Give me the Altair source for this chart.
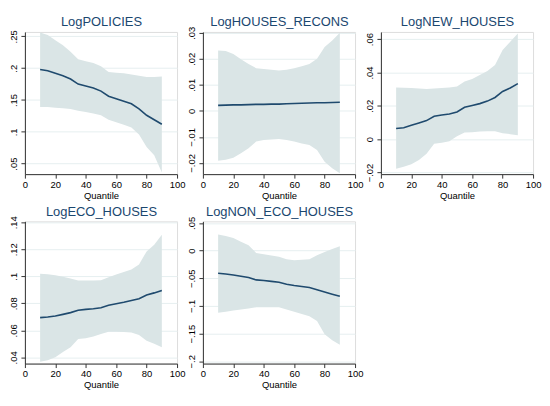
import altair as alt
import pandas as pd

quantiles = [10, 15, 20, 25, 30, 35, 40, 45, 50, 55, 60, 65, 70, 75, 80, 85, 90]

titles = ["LogPOLICIES", "LogHOUSES_RECONS", "LogNEW_HOUSES", "LogECO_HOUSES", "LogNON_ECO_HOUSES"]

policies_est = [.198, .196, .192, .188, .183, .175, .172, .169, .164, .156, .152, .148, .144, .136, .126, .119, .112]
policies_hi = [.256, .252, .244, .236, .226, .214, .211, .208, .203, .194, .193, .192, .190, .188, .186, .186, .187]
policies_lo = [.139, .139, .138, .137, .136, .133, .131, .129, .126, .119, .115, .111, .107, .096, .076, .063, .036]

recons_est = [.0021, .0022, .0023, .0023, .0024, .0025, .0025, .0026, .0026, .0027, .0028, .0029, .0030, .0031, .0031, .0032, .0033]
recons_hi = [.0232, .0230, .0218, .0198, .0180, .0164, .0161, .0158, .0155, .0158, .0164, .0171, .0180, .0200, .0245, .0270, .0300]
recons_lo = [-.0192, -.0188, -.0180, -.0163, -.0144, -.0118, -.0112, -.0110, -.0108, -.0112, -.0118, -.0125, -.0131, -.0150, -.0195, -.0220, -.0240]

new_est = [.0064, .0068, .0083, .0097, .0111, .0137, .0145, .0151, .0163, .0191, .0202, .0213, .0228, .0250, .0286, .0307, .0333]
new_hi = [.0310, .0308, .0306, .0303, .0300, .0303, .0306, .0310, .0316, .0345, .0361, .0385, .0409, .0445, .0534, .0584, .0633]
new_lo = [-.0177, -.0165, -.0151, -.0125, -.0087, -.0028, -.0022, -.0012, .0018, .0040, .0042, .0046, .0048, .0047, .0036, .0030, .0024]

eco_est = [.0694, .0699, .0706, .0718, .0731, .0748, .0755, .0760, .0767, .0786, .0797, .0808, .0821, .0833, .0861, .0877, .0895]
eco_hi = [.1018, .1014, .1008, .0996, .0984, .0969, .0969, .0969, .0971, .0993, .1013, .1032, .1050, .1087, .1184, .1233, .1307]
eco_lo = [.0368, .0378, .0400, .0440, .0474, .0535, .0542, .0555, .0572, .0589, .0589, .0587, .0584, .0565, .0523, .0500, .0474]

noneco_est = [-.0411, -.0424, -.0440, -.0463, -.0488, -.0530, -.0542, -.0556, -.0571, -.0607, -.0630, -.0648, -.0667, -.0708, -.0750, -.0790, -.0827]
noneco_hi = [.0292, .0262, .0226, .0160, .0095, -.0042, -.0065, -.0090, -.0113, -.0155, -.0173, -.0168, -.0155, -.0083, -.0024, .0030, .0077]
noneco_lo = [-.1125, -.1105, -.1083, -.1065, -.1048, -.1024, -.1024, -.1024, -.1024, -.1065, -.1107, -.1145, -.1185, -.1274, -.1512, -.1620, -.1702]

series = [
    (policies_est, policies_lo, policies_hi),
    (recons_est, recons_lo, recons_hi),
    (new_est, new_lo, new_hi),
    (eco_est, eco_lo, eco_hi),
    (noneco_est, noneco_lo, noneco_hi),
]

y_domains = [
    [0.0335, 0.257],
    [-0.0243, 0.0303],
    [-0.021, 0.0643],
    [0.0354, 0.1406],
    [-0.2041, 0.0527],
]
y_ticks = [
    [.05, .1, .15, .2, .25],
    [-.02, -.01, 0, .01, .02, .03],
    [-.02, 0, .02, .04, .06],
    [.04, .06, .08, .1, .12, .14],
    [-.2, -.15, -.1, -.05, 0, .05],
]
x_ticks = [0, 20, 40, 60, 80, 100]

FONT = "Liberation Sans"
BAND = "#dae5e6"
LINE = "#1f4a6e"


def panel(i):
    est, lo, hi = series[i]
    df = pd.DataFrame({"q": quantiles, "est": est, "lo": lo, "hi": hi})
    xscale = alt.Scale(domain=[0, 100], nice=False)
    x_bottom = alt.X(
        "q:Q", scale=xscale,
        axis=alt.Axis(
            values=x_ticks, title="Quantile", grid=False, labelFontSize=9.5,
            titleFontSize=9.5, titleFontWeight="normal", titlePadding=1.5,
            labelPadding=1, tickSize=4, domainColor="#333", tickColor="#333",
            labelColor="#000", titleColor="#000", labelFont=FONT, titleFont=FONT,
            labelFlush=False, labelOverlap=False,
        ),
    )
    x_top = alt.X(
        "q:Q", scale=xscale,
        axis=alt.Axis(
            orient="top", title=titles[i], labels=False, ticks=False,
            domain=False, grid=False, titleFontSize=13, titleFont=FONT,
            titleColor="#1a476f", titleFontWeight="normal", titlePadding=3,
            minExtent=0, maxExtent=0,
        ),
    )
    yscale = alt.Scale(domain=y_domains[i], nice=False, zero=False)
    yaxis = alt.Axis(
        values=y_ticks[i], title=None, grid=True, gridColor="#e6eff0",
        labelAngle=270, labelAlign="center", labelBaseline="bottom",
        labelExpr="replace(format(datum.value, '~g'), '0.', '.')",
        labelFontSize=9.5, labelPadding=2, tickSize=4, domainColor="#333",
        tickColor="#333", labelColor="#000", labelFont=FONT,
        minExtent=16, maxExtent=16, labelFlush=False, labelOverlap=False,
    )
    base = alt.Chart(df)
    band = base.mark_area(color=BAND, opacity=1).encode(
        x=x_bottom, y=alt.Y("lo:Q", scale=yscale, axis=yaxis), y2="hi:Q"
    )
    line = base.mark_line(color=LINE, strokeWidth=1.6).encode(
        x=x_top, y=alt.Y("est:Q", scale=yscale, axis=yaxis)
    )
    return alt.layer(band, line).resolve_axis(x="independent").properties(
        width=153, height=143
    )


row1 = alt.hconcat(panel(0), panel(1), panel(2), spacing=0).resolve_scale(
    x="independent", y="independent"
)
row2 = alt.hconcat(panel(3), panel(4), spacing=0).resolve_scale(
    x="independent", y="independent"
)
chart = alt.vconcat(row1, row2, spacing=4.5).resolve_scale(
    x="independent", y="independent"
).properties(
    padding={"top": 6, "left": 0, "right": 0, "bottom": 0}
).configure_view(stroke=None).configure(background="white")

chart.save("out.html", embed_options={"renderer": "svg", "actions": False})
